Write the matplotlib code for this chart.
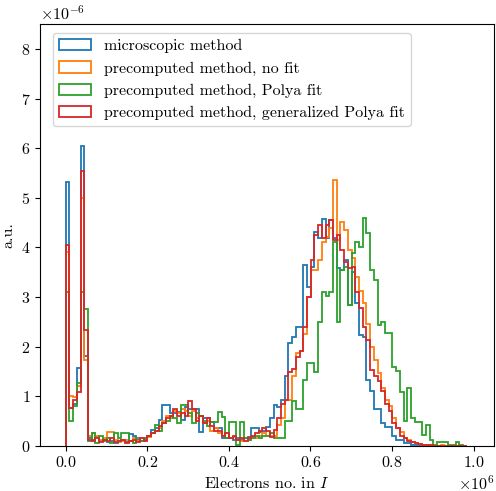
import numpy as np
import matplotlib
matplotlib.use('Agg')
from matplotlib import pyplot as plt

plt.rcParams['font.family'] = 'serif'
plt.rcParams['font.serif'] = ['cmr10']
plt.rcParams['mathtext.fontset'] = 'cm'
plt.rcParams['axes.formatter.use_mathtext'] = True
plt.rcParams['font.size'] = 11.5

# histogram bins (electrons), common to all methods
bin_width = 9100.
n_bins = 108
edges = np.arange(n_bins + 1) * bin_width

# bin contents in units of 1e-6
microscopic = [
    5.31, 0.77, 0.85, 1.57, 6.04, 1.81,
    0.15, 0.12, 0.18, 0.1, 0.12, 0.08, 0.1, 0.05, 0.1, 0.12,
    0.08, 0.23, 0.2, 0.12, 0.1, 0.15, 0.2, 0.32, 0.35, 0.52,
    0.82, 0.82, 0.65, 0.65, 0.68, 0.52, 0.79, 0.75, 0.75, 0.75,
    0.28, 0.55, 0.55, 0.48, 0.35, 0.35, 0.15, 0.15, 0.15, 0.12,
    0.15, 0.12, 0.15, 0.18, 0.35, 0.35, 0.28, 0.3, 0.38, 0.55,
    0.82, 0.78, 0.92, 1.4, 2.08, 2.2, 2.4, 2.4, 3.64, 3.2,
    3.6, 4.31, 4.18, 4.58, 4.18, 4.56, 4.18, 3.58, 3.55, 3.74,
    2.84, 3.5, 2.87, 2.23, 2.2, 1.32, 1.1, 0.75, 0.75, 0.45,
    0.38, 0.38, 0.2, 0.11, 0.12, 0.05, 0.05, 0.02, 0.02, 0.01,
    0.0, 0.01, 0.0, 0.0, 0.0, 0.0, 0.0, 0.0, 0.0, 0.0, 0.0, 0.0,
]
no_fit = [
    3.9, 1.0, 0.99, 1.2, 5.0, 1.73,
    0.2, 0.25, 0.2, 0.12, 0.15, 0.27, 0.27, 0.12, 0.08, 0.1,
    0.12, 0.1, 0.15, 0.1, 0.15, 0.12, 0.18, 0.25, 0.3, 0.35,
    0.5, 0.6, 0.55, 0.7, 0.65, 0.75, 0.7, 0.6, 0.7, 0.55,
    0.6, 0.45, 0.5, 0.3, 0.35, 0.25, 0.2, 0.25, 0.15, 0.18,
    0.12, 0.1, 0.15, 0.12, 0.18, 0.15, 0.2, 0.25, 0.2, 0.2,
    0.2, 0.42, 0.55, 0.92, 0.92, 1.4, 1.86, 1.9, 2.26, 3.0,
    3.54, 3.54, 3.74, 4.11, 4.2, 4.4, 5.36, 4.15, 4.52, 4.36,
    3.95, 3.78, 3.4, 3.12, 2.87, 2.45, 2.0, 1.72, 1.46, 1.16,
    0.92, 0.8, 0.55, 0.35, 0.28, 0.15, 0.12, 0.08, 0.05, 0.04,
    0.02, 0.02, 0.01, 0.0, 0.0, 0.01, 0.0, 0.0, 0.0, 0.0, 0.0, 0.0,
]
polya = [
    3.09, 0.5, 0.8, 1.26, 3.09, 2.76,
    0.1, 0.25, 0.05, 0.2, 0.1, 0.15, 0.05, 0.25, 0.15, 0.25,
    0.25, 0.1, 0.05, 0.15, 0.1, 0.12, 0.2, 0.25, 0.42, 0.3,
    0.45, 0.5, 0.6, 0.55, 0.45, 0.82, 0.82, 0.65, 0.45, 0.65,
    0.6, 0.5, 0.4, 0.48, 0.48, 0.68, 0.58, 0.15, 0.48, 0.48,
    0.02, 0.48, 0.15, 0.12, 0.15, 0.2, 0.15, 0.2, 0.2, 0.25,
    0.15, 0.15, 0.15, 0.5, 0.5, 0.9, 0.75, 0.75, 1.32, 1.67,
    1.67, 1.49, 2.5, 3.1, 3.02, 3.1, 4.11, 2.5, 3.54, 3.6,
    2.84, 3.88, 4.11, 4.0, 4.6, 4.3, 3.54, 3.35, 2.43, 2.5,
    2.27, 2.27, 1.59, 1.5, 1.09, 0.5, 1.16, 0.55, 0.48, 0.48,
    0.22, 0.42, 0.12, 0.02, 0.08, 0.08, 0.08, 0.02, 0.02, 0.08, 0.02, 0.0,
]
gen_polya = [
    4.05, 0.77, 0.92, 1.09, 5.55, 2.33,
    0.12, 0.1, 0.15, 0.08, 0.12, 0.1, 0.15, 0.08, 0.1, 0.12,
    0.05, 0.1, 0.12, 0.08, 0.15, 0.1, 0.2, 0.25, 0.3, 0.4,
    0.45, 0.55, 0.6, 0.75, 0.6, 0.65, 0.6, 0.9, 0.75, 0.5,
    0.6, 0.45, 0.55, 0.4, 0.3, 0.3, 0.2, 0.25, 0.15, 0.2,
    0.12, 0.15, 0.1, 0.15, 0.2, 0.25, 0.3, 0.35, 0.3, 0.18,
    0.32, 0.55, 0.85, 0.92, 1.49, 1.55, 1.79, 1.9, 2.4, 3.0,
    3.74, 4.25, 4.45, 4.18, 4.45, 4.55, 4.15, 4.25, 3.95, 3.71,
    3.58, 3.6, 3.1, 2.77, 2.4, 2.13, 1.53, 1.4, 1.3, 1.1,
    0.85, 0.7, 0.45, 0.35, 0.2, 0.15, 0.1, 0.08, 0.05, 0.03,
    0.02, 0.02, 0.01, 0.0, 0.0, 0.0, 0.0, 0.0, 0.0, 0.0, 0.0, 0.0,
]

series = [
    ('microscopic method', microscopic),
    ('precomputed method, no fit', no_fit),
    ('precomputed method, Polya fit', polya),
    ('precomputed method, generalized Polya fit', gen_polya),
]

fig = plt.figure(figsize=(4.96, 4.91), dpi=100)
ax = fig.add_axes([0.0806, 0.0923, 0.916, 0.8582])

for label, vals in series:
    ax.hist(edges[:-1], bins=edges, weights=np.array(vals) * 1e-6,
            histtype='step', linewidth=1.3, label=label)

ax.set_xlim(-0.063e6, 1.0505e6)
ax.set_ylim(0, 8.5e-6)
ax.set_xlabel('Electrons no. in $I$')
ax.set_ylabel('a.u.')
ax.legend(loc='upper left', bbox_to_anchor=(0.028, 0.98), borderaxespad=0)

plt.savefig('out.png', dpi=100)
plt.close()
